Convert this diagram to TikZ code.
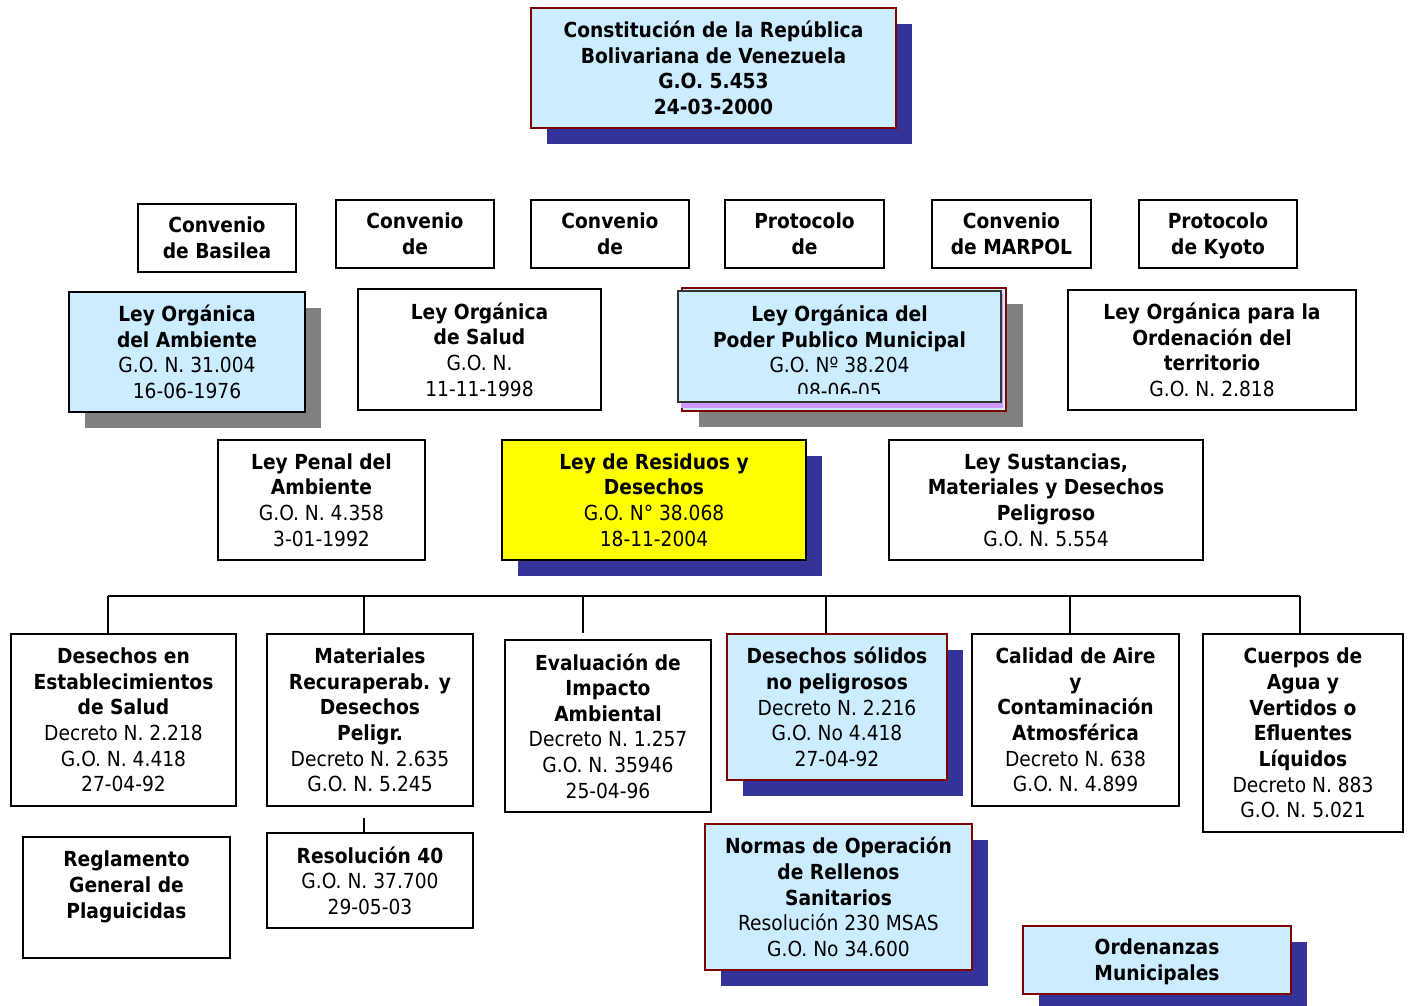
\documentclass[tikz,border=0pt]{standalone}
\usepackage{fontspec}
\setmainfont{DejaVu Sans Condensed}
\usetikzlibrary{shadows}
\definecolor{paleblue}{HTML}{CCECFF}
\definecolor{framered}{HTML}{800000}
\definecolor{navyshade}{HTML}{333399}
\definecolor{lilac}{HTML}{CC99FF}
\definecolor{lawyellow}{HTML}{FFFF00}

\tikzset{
  box/.style={draw=black, line width=1.1pt, fill=white, align=center, inner sep=0pt,
    font=\fontsize{11.8}{14.6}\selectfont},
  bw/.style={minimum width=#1*0.02cm},
  bh/.style={minimum height=#1*0.02cm},
  bluebox/.style={box, draw=framered, fill=paleblue,
    drop shadow={shadow xshift=0.32cm, shadow yshift=-0.32cm, fill=navyshade, opacity=1}},
  greybox/.style={box, fill=paleblue,
    drop shadow={shadow xshift=0.32cm, shadow yshift=-0.32cm, fill=gray, opacity=1}},
  yellowbox/.style={box, fill=lawyellow,
    drop shadow={shadow xshift=0.32cm, shadow yshift=-0.32cm, fill=navyshade, opacity=1}},
  link/.style={line width=1.1pt}
}

\begin{document}
\begin{tikzpicture}[x=0.02cm, y=-0.02cm]
  \useasboundingbox (0,0) rectangle (1412,1005);

  \node[bluebox, bw=365, bh=120] (constitucion) at (713.5,68)
    {\textbf{Constitución de la República}\\ \textbf{Bolivariana de Venezuela}\\ \textbf{G.O. 5.453}\\ \textbf{24-03-2000}};

  \node[box, bw=158, bh=68] (basilea) at (217,238) {\textbf{Convenio}\\ \textbf{de Basilea}};
  \node[box, bw=158, bh=68] (conva) at (415,234) {\textbf{Convenio}\\ \textbf{de}};
  \node[box, bw=158, bh=68] (convb) at (610,234) {\textbf{Convenio}\\ \textbf{de}};
  \node[box, bw=159, bh=68] (protocolo) at (804.5,234) {\textbf{Protocolo}\\ \textbf{de}};
  \node[box, bw=159, bh=68] (marpol) at (1011.5,234) {\textbf{Convenio}\\ \textbf{de MARPOL}};
  \node[box, bw=158, bh=68] (kyoto) at (1218,234) {\textbf{Protocolo}\\ \textbf{de K\smash{y}oto}};

  \node[greybox, bw=236, bh=120] (ambiente) at (187,352)
    {\textbf{Ley Orgánica}\\ \textbf{del Ambiente}\\ G.O. N. 31.004\\ 16-06-1976};
  \node[box, bw=243, bh=121] (salud) at (479.5,349.5)
    {\textbf{Ley Orgánica}\\ \textbf{de Salud}\\ G.O. N.\\ 11-11-1998};
  \node[box, draw=framered, fill=paleblue,
    drop shadow={shadow xshift=0.34cm, shadow yshift=-0.32cm, fill=gray, opacity=1},
    bw=324, bh=123] (municipalback) at (844,349.5) {};
  \fill[lilac] (681,294) rectangle (1003,408);
  \node[box, draw=black!80, line width=0.9pt, fill=paleblue, bw=323, bh=111] (municipal) at (839.5,346.5) {};
  \begin{scope}
    \clip ([yshift=0.18cm]municipal.south west) rectangle (municipal.north east);
    \node[box, draw=none, fill=none] (municipaltext) at (839.5,352)
      {\textbf{Ley Orgánica del}\\ \textbf{Poder Publico Municipal}\\ G.O. Nº 38.204\\ 08-06-05};
  \end{scope}
  \node[box, bw=288, bh=120] (ordenacion) at (1212,350)
    {\textbf{Ley Orgánica para la}\\ \textbf{Ordenación del}\\ \textbf{territorio}\\ G.O. N. 2.818};

  \node[box, bw=207, bh=120] (penal) at (321.5,500)
    {\textbf{Ley Penal del}\\ \textbf{Ambiente}\\ G.O. N. 4.358\\ 3-01-1992};
  \node[yellowbox, bw=304, bh=120] (residuos) at (654,500)
    {\textbf{Ley de Residuos y}\\ \textbf{Desechos}\\ G.O. N° 38.068\\ 18-11-2004};
  \node[box, bw=314, bh=120] (sustancias) at (1046,500)
    {\textbf{Ley Sustancias,}\\ \textbf{Materiales y Desechos}\\ \textbf{Peligroso}\\ G.O. N. 5.554};

  \node[box, bw=225, bh=172] (establecimientos) at (123.5,720)
    {\textbf{Desechos en}\\ \textbf{Establecimientos}\\ \textbf{de Salud}\\ Decreto N. 2.218\\ G.O. N. 4.418\\ 27-04-92};
  \node[box, bw=206, bh=172] (materiales) at (370,720)
    {\textbf{Materiales}\\ \textbf{Recuraperab. y}\\ \textbf{Desechos}\\ \textbf{Peligr.}\\ Decreto N. 2.635\\ G.O. N. 5.245};
  \node[box, bw=206, bh=172] (evaluacion) at (608,726)
    {\textbf{Evaluación de}\\ \textbf{Impacto}\\ \textbf{Ambiental}\\ Decreto N. 1.257\\ G.O. N. 35946\\ 25-04-96};
  \node[bluebox, bw=220, bh=146] (solidos) at (837,707)
    {\textbf{Desechos sólidos}\\ \textbf{no peligrosos}\\ Decreto N. 2.216\\ G.O. No 4.418\\ 27-04-92};
  \node[box, bw=207, bh=172] (aire) at (1075.5,720)
    {\textbf{Calidad de Aire}\\ \textbf{y}\\ \textbf{Contaminación}\\ \textbf{Atmosférica}\\ Decreto N. 638\\ G.O. N. 4.899};
  \node[box, bw=200, bh=198] (cuerpos) at (1303,733)
    {\textbf{Cuerpos de}\\ \textbf{Agua y}\\ \textbf{Vertidos o}\\ \textbf{Efluentes}\\ \textbf{Líquidos}\\ Decreto N. 883\\ G.O. N. 5.021};

  \node[box, bw=207, bh=121] (reglamento) at (126.5,897.5)
    {\textbf{Reglamento}\\ \textbf{General de}\\ \textbf{Plaguicidas}\\ \mbox{}};
  \node[box, bw=206, bh=95] (resolucion) at (370,880.5)
    {\textbf{Resolución 40}\\ G.O. N. 37.700\\ 29-05-03};
  \node[bluebox, bw=267, bh=146] (normas) at (838.5,897)
    {\textbf{Normas de Operación}\\ \textbf{de Rellenos}\\ \textbf{Sanitarios}\\ Resolución 230 MSAS\\ G.O. No 34.600};
  \node[bluebox, bw=268, bh=68] (ordenanzas) at (1157,960)
    {\textbf{Ordenanzas}\\ \textbf{Munici\smash{p}ales}};

  \coordinate (b1) at (108,596);
  \coordinate (b2) at (364,596);
  \coordinate (b3) at (583,596);
  \coordinate (b4) at (826,596);
  \coordinate (b5) at (1070,596);
  \coordinate (b6) at (1300,596);
  \coordinate (r1) at (364,818);
  \draw[link] (b1) -- (b6);
  \foreach \b in {b1,b2,b3,b4,b5,b6}
    \draw[link] (\b) -- (\b |- establecimientos.north);
  \draw[link] (r1) -- (r1 |- resolucion.north);
\end{tikzpicture}
\end{document}
